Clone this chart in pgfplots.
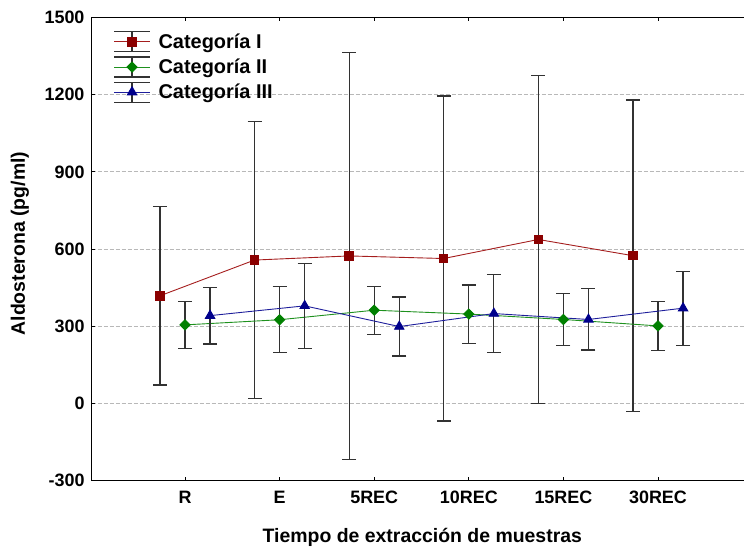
\documentclass[border=0pt]{standalone}
\usepackage{fontspec}
\setmainfont{Liberation Sans}
\usepackage{pgfplots}
\usepackage{pgfplotstable}
\pgfplotsset{compat=1.18}
\definecolor{cI}{RGB}{139,0,0}
\definecolor{cIl}{RGB}{165,30,30}
\definecolor{cII}{RGB}{0,128,0}
\definecolor{cIIl}{RGB}{30,145,30}
\definecolor{cIII}{RGB}{0,0,140}
\definecolor{cIIIl}{RGB}{30,30,155}
\definecolor{ebar}{RGB}{50,50,50}

\pgfplotstableread{
x y e
-0.265 418 347
0.735 557 539
1.735 573 792
2.735 563 632
3.735 637 639
4.735 574 605
}\catI
\pgfplotstableread{
x y e
0 305 91
1 325 128
2 362 93
3 347 113
4 326 100
5 301 95
}\catII
\pgfplotstableread{
x y e
0.265 341 110
1.265 379 166
2.265 298.5 114.5
3.265 349 151
4.265 326 119
5.265 370 144
}\catIII

\pgfplotsset{
  ebicon/.style={legend image code/.code={
    \draw[ebar,line width=1.1bp] (0bp,10bp)--(36bp,10bp) (0bp,-10bp)--(36bp,-10bp) (18bp,-10bp)--(18bp,10bp);
    \draw[##1, mark repeat=2, mark phase=2] plot coordinates {(0bp,0bp) (18bp,0bp) (36bp,0bp)};
  }},
  myerr/.style={error bars/.cd, y dir=both, y explicit,
    error bar style={ebar, line width=1.2bp},
    error mark options={ebar, line width=1.2bp, mark size=7bp, rotate=90}},
}

\begin{document}
\begin{tikzpicture}
\useasboundingbox (0,0) rectangle (744bp,548bp);
\begin{axis}[
  at={(91.5bp,67.5bp)}, anchor=south west,
  scale only axis, width=652.5bp, height=463bp,
  xmin=-0.9884, xmax=5.909, ymin=-300, ymax=1500,
  axis x line*=box, axis y line*=left,
  axis line style={line width=0.9bp, black},
  xtick={0,...,5}, xticklabels={R,E,5REC,10REC,15REC,30REC},
  ytick={-300,0,300,600,900,1200,1500},
  tick align=inside, major tick length=3.5bp,
  tick style={black, line width=0.8bp},
  ymajorgrids, grid style={black!28, dash pattern=on 4bp off 2bp, line width=0.8bp},
  /pgf/number format/assume math mode=true,
  /pgf/number format/1000 sep={},
  tick label style={font=\fontsize{18}{18}\selectfont\bfseries},
  xticklabel style={yshift=-7bp},
  yticklabel style={xshift=-3.5bp},
  xlabel={Tiempo de extracción de muestras},
  ylabel={Aldosterona (pg/ml)},
  label style={font=\fontsize{19.5}{19.5}\selectfont\bfseries},
  xlabel style={at={(axis description cs:0.507,-0.122)}, anchor=center},
  ylabel style={at={(axis description cs:-0.1097,0.5117)}, anchor=center},
  legend style={draw=none, fill=none, at={(axis description cs:0.0337,0.97)}, anchor=north west,
    inner sep=0pt, outer sep=0pt, row sep=4bp,
    font=\fontsize{20}{20}\selectfont\bfseries,
    nodes={inner sep=0pt},
    /tikz/every odd column/.append style={column sep=8bp}},
  legend cell align=left,
]
\addplot[cIl, line width=0.9bp, mark=square*, mark size=4.2bp, mark options={cI, fill=cI, solid}, ebicon, myerr]
  table[x=x, y=y, y error=e] {\catI};
\addlegendentry{Categoría I}
\addplot[cIIl, line width=0.9bp, mark=square*, mark size=3.6bp, mark options={cII, fill=cII, rotate=45, solid}, ebicon, myerr]
  table[x=x, y=y, y error=e] {\catII};
\addlegendentry{Categoría II}
\addplot[cIIIl, line width=0.9bp, mark=triangle*, mark size=5.4bp, mark options={cIII, fill=cIII, solid}, ebicon, myerr]
  table[x=x, y=y, y error=e] {\catIII};
\addlegendentry{Categoría III}
\end{axis}
\end{tikzpicture}
\end{document}
